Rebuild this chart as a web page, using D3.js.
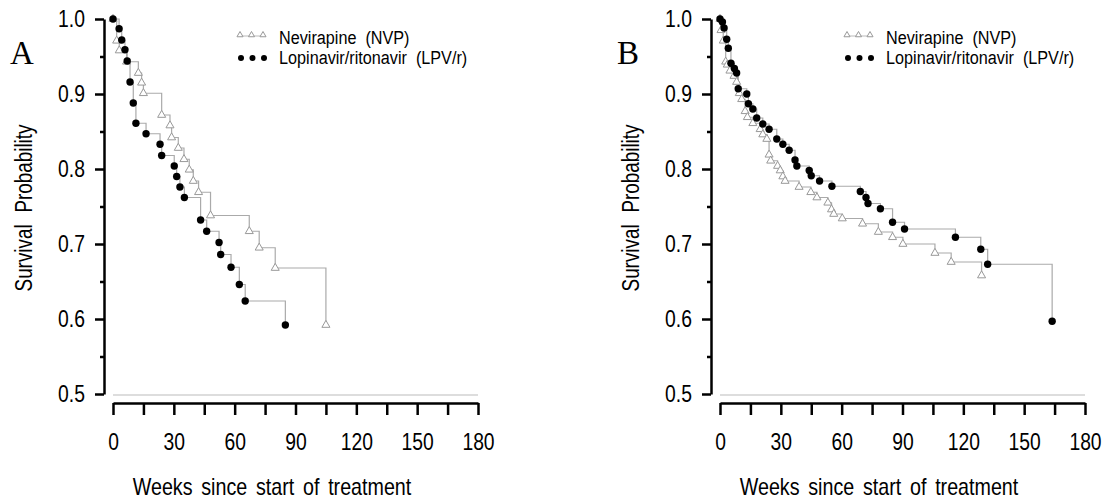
<!DOCTYPE html>
<html><head><meta charset="utf-8">
<script src="https://cdn.jsdelivr.net/npm/d3@7"></script>
<style>
html,body{margin:0;padding:0;background:#fff;}
svg{display:block;font-family:"Liberation Sans",Arial,Helvetica,sans-serif;}
</style></head><body>
<svg id="chart" width="1109" height="502"></svg>
<script>
// ---- data: [weeks, survival probability] ----
const nvpA = [[0,1.0],[1.8,0.971],[3.1,0.958],[6.7,0.943],[12.5,0.928],[14.1,0.915],[15,0.901],[24,0.872],[28.1,0.858],[28.9,0.842],[32.2,0.828],[35,0.813],[37.6,0.799],[39.6,0.784],[42.2,0.769],[48.1,0.738],[67.2,0.717],[72.1,0.695],[80,0.668],[105,0.592]];
const lpvA = [[0,1.0],[3,0.987],[4.3,0.972],[5.9,0.959],[7,0.944],[8.4,0.916],[10,0.888],[11.3,0.861],[16.3,0.847],[23.2,0.833],[24,0.818],[30.2,0.804],[31.4,0.790],[33,0.776],[35.2,0.762],[43.2,0.732],[46.2,0.717],[52.3,0.702],[53.1,0.686],[58.2,0.669],[62.3,0.646],[65.2,0.624],[85,0.592]];
const nvpB = [[0,1.0],[0.5,0.985],[1.6,0.971],[2.8,0.943],[3.6,0.939],[4.9,0.931],[6.9,0.924],[8.2,0.916],[9.5,0.901],[10.7,0.893],[12.4,0.877],[13.5,0.869],[16.2,0.861],[19.8,0.853],[21.1,0.846],[23.1,0.840],[24.2,0.819],[25,0.811],[28.4,0.804],[29.7,0.798],[31,0.790],[32.1,0.784],[39,0.776],[44.8,0.769],[47.8,0.762],[53.2,0.755],[55,0.746],[56.1,0.740],[60.3,0.734],[70.3,0.727],[78.1,0.716],[85.1,0.709],[90.2,0.700],[106,0.688],[114,0.676],[129,0.658]];
const lpvB = [[0,1.0],[1.2,0.996],[2,0.988],[3.3,0.973],[4.1,0.961],[5.4,0.941],[7.1,0.934],[8.2,0.928],[9,0.907],[13.2,0.900],[14,0.887],[16.2,0.880],[18.1,0.868],[21.1,0.860],[24.2,0.853],[28,0.840],[31,0.833],[34.1,0.825],[37,0.812],[37.9,0.804],[44,0.798],[45,0.791],[49.1,0.784],[55.2,0.777],[69.2,0.770],[72,0.762],[73,0.754],[79.1,0.747],[85.1,0.729],[91,0.720],[116.1,0.709],[128.6,0.693],[132,0.673],[163.8,0.597]];
const xTickValues = [0,15,30,45,60,75,90,105,120,135,150,165,180];
const xLabelValues = [0,30,60,90,120,150,180];
const yTickValues = [0.5,0.55,0.6,0.65,0.7,0.75,0.8,0.85,0.9,0.95,1.0];
const yLabelValues = [0.5,0.6,0.7,0.8,0.9,1.0];
const seriesNames = ["Nevirapine  (NVP)","Lopinavir/ritonavir  (LPV/r)"];
const panelLetters = ["A","B"];
const xTitle = "Weeks since start of treatment";
const yTitle = "Survival Probability";

const svg = d3.select("#chart");
const panels = [
  {letter: panelLetters[0], nvp: nvpA, lpv: lpvA, dx: 0},
  {letter: panelLetters[1], nvp: nvpB, lpv: lpvB, dx: 607}
];
const triPath = d3.symbol().type(d3.symbolTriangle).size(28)();
const isMajor = d => yLabelValues.some(v => Math.abs(v-d)<1e-9);
// narrow-sans look: compress glyphs horizontally
function condense(sel, f) {
  sel.each(function() {
    const L = this.getComputedTextLength();
    if (L > 0) {
      this.setAttribute("textLength", (L * f).toFixed(1));
      this.setAttribute("lengthAdjust", "spacingAndGlyphs");
    }
  });
}

panels.forEach(p => {
  const g = svg.append("g").attr("transform", `translate(${p.dx},0)`);
  const x = d3.scaleLinear().domain([0,180]).range([113,478]);
  const y = d3.scaleLinear().domain([0.5,1]).range([394,19]);

  // panel letter
  g.append("text").attr("x",10).attr("y",64)
    .style("font-family",'"Liberation Serif","Times New Roman",serif')
    .style("font-size","33px").attr("fill","#000").text(p.letter);

  // y axis
  const ya = g.append("g").attr("transform","translate(104,0)")
    .call(d3.axisLeft(y).tickValues(yTickValues).tickSize(9).tickPadding(10).tickSizeOuter(0)
      .tickFormat(d => isMajor(d) ? d3.format(".1f")(d) : ""));
  ya.attr("font-family",null);
  ya.select(".domain").attr("stroke","#000").attr("stroke-width",2.5);
  ya.selectAll(".tick line").attr("stroke","#000").attr("stroke-width",2.5)
    .attr("x2", d => isMajor(d) ? -9 : -4);
  ya.selectAll(".tick text").style("font-size","23px").attr("fill","#000").call(condense, 0.84);

  // grey baseline at 0.5
  g.append("line").attr("x1",x(0)).attr("x2",x(180)).attr("y1",y(0.5)+1).attr("y2",y(0.5)+1)
    .attr("stroke","#bbb").attr("stroke-width",1.2);

  // x axis
  const xa = g.append("g").attr("transform","translate(0,403)")
    .call(d3.axisBottom(x).tickValues(xTickValues).tickSize(12).tickPadding(19).tickSizeOuter(0)
      .tickFormat(d => xLabelValues.includes(d) ? d : ""));
  xa.attr("font-family",null);
  xa.select(".domain").attr("stroke","#000").attr("stroke-width",2.5);
  xa.selectAll(".tick line").attr("stroke","#000").attr("stroke-width",2.5);
  xa.selectAll(".tick text").style("font-size","23px").attr("fill","#000").call(condense, 0.84);

  // titles
  g.append("text").attr("x",272).attr("y",495).attr("text-anchor","middle")
    .style("font-size","24px").style("word-spacing","4px").attr("fill","#000").text(xTitle)
    .call(condense, 0.82);
  g.append("text").attr("transform","translate(32,208) rotate(-90)").attr("text-anchor","middle")
    .style("font-size","23px").style("word-spacing","8px").attr("fill","#000").text(yTitle)
    .call(condense, 0.82);

  // step lines
  const line = d3.line().x(d => x(d[0])).y(d => y(d[1])).curve(d3.curveStepAfter);
  g.append("path").datum(p.nvp).attr("d",line).attr("fill","none").attr("stroke","#aaa").attr("stroke-width",1.2);
  g.append("path").datum(p.lpv).attr("d",line).attr("fill","none").attr("stroke","#aaa").attr("stroke-width",1.2);

  // markers
  g.selectAll(".tri").data(p.nvp).join("path").attr("class","tri")
    .attr("d",triPath).attr("transform",d => `translate(${x(d[0])},${y(d[1])})`)
    .attr("fill","#fff").attr("stroke","#999").attr("stroke-width",1);
  g.selectAll(".dot").data(p.lpv).join("circle").attr("class","dot")
    .attr("cx",d => x(d[0])).attr("cy",d => y(d[1])).attr("r",3.7).attr("fill","#000");

  // legend
  const lg = g.append("g");
  lg.append("line").attr("x1",240).attr("x2",263).attr("y1",36).attr("y2",36).attr("stroke","#bbb").attr("stroke-width",1);
  [240,251.5,263].forEach(cx => {
    lg.append("path").attr("d",d3.symbol().type(d3.symbolTriangle).size(16)())
      .attr("transform",`translate(${cx},35)`).attr("fill","#fff").attr("stroke","#999").attr("stroke-width",1);
    lg.append("circle").attr("cx",cx+1).attr("cy",58).attr("r",3).attr("fill","#000");
  });
  lg.append("text").attr("x",279).attr("y",44).style("font-size","18px").style("white-space","pre")
    .attr("fill","#000").text(seriesNames[0]).call(condense, 0.9);
  lg.append("text").attr("x",279).attr("y",64).style("font-size","18px").style("white-space","pre")
    .attr("fill","#000").text(seriesNames[1]).call(condense, 0.9);
});
</script>
</body></html>
